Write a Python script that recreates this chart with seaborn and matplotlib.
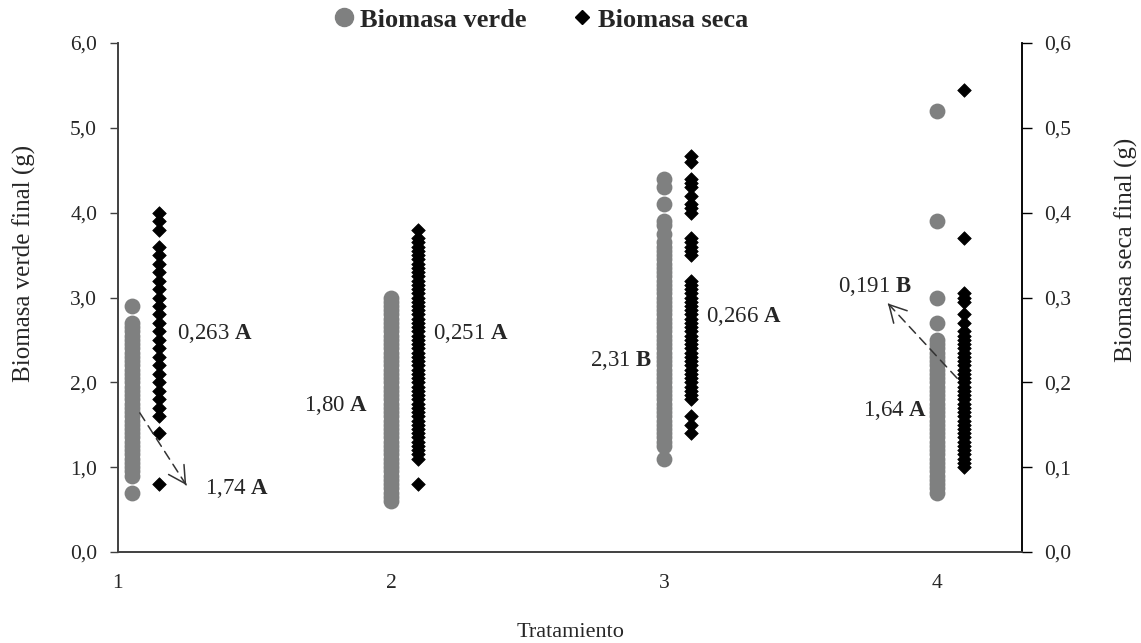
import pandas as pd
import matplotlib
matplotlib.use('Agg')
import matplotlib.pyplot as plt
import seaborn as sns
from matplotlib.lines import Line2D

treatments = [1, 2, 3, 4]

verde_t1 = [0.7, 0.9, 0.95, 1.0, 1.05, 1.1, 1.15, 1.2, 1.25, 1.3, 1.35, 1.4, 1.45,
            1.5, 1.55, 1.6, 1.65, 1.7, 1.75, 1.8, 1.85, 1.9, 1.95, 2.0, 2.05, 2.1,
            2.15, 2.2, 2.25, 2.3, 2.35, 2.4, 2.45, 2.5, 2.55, 2.6, 2.65, 2.7, 2.9]
verde_t2 = [0.6, 0.65, 0.7, 0.75, 0.8, 0.85, 0.9, 0.95, 1.0, 1.05, 1.1, 1.15, 1.2,
            1.25, 1.3, 1.35, 1.4, 1.45, 1.5, 1.55, 1.6, 1.65, 1.7, 1.75, 1.8, 1.85,
            1.9, 1.95, 2.0, 2.05, 2.1, 2.15, 2.2, 2.25, 2.3, 2.35, 2.4, 2.45, 2.5,
            2.55, 2.6, 2.65, 2.7, 2.75, 2.8, 2.85, 2.9, 2.95, 3.0]
verde_t3 = [1.1, 1.25, 1.3, 1.35, 1.4, 1.45, 1.5, 1.55, 1.6, 1.65, 1.7, 1.75, 1.8,
            1.85, 1.9, 1.95, 2.0, 2.05, 2.1, 2.15, 2.2, 2.25, 2.3, 2.35, 2.4, 2.45,
            2.5, 2.55, 2.6, 2.65, 2.7, 2.75, 2.8, 2.85, 2.9, 2.95, 3.0, 3.05, 3.1,
            3.15, 3.2, 3.25, 3.3, 3.35, 3.4, 3.45, 3.5, 3.55, 3.6, 3.65, 3.75, 3.85,
            3.9, 4.1, 4.3, 4.4]
verde_t4 = [0.7, 0.75, 0.8, 0.85, 0.9, 0.95, 1.0, 1.05, 1.1, 1.15, 1.2, 1.25, 1.3,
            1.35, 1.4, 1.45, 1.5, 1.55, 1.6, 1.65, 1.7, 1.75, 1.8, 1.85, 1.9, 1.95,
            2.0, 2.05, 2.1, 2.15, 2.2, 2.25, 2.3, 2.35, 2.4, 2.45, 2.5, 2.7, 3.0,
            3.9, 5.2]

seca_t1 = [0.08, 0.14, 0.16, 0.17, 0.18, 0.19, 0.20, 0.21, 0.22, 0.23, 0.24, 0.25,
           0.26, 0.27, 0.28, 0.29, 0.30, 0.31, 0.32, 0.33, 0.34, 0.35, 0.36, 0.38,
           0.39, 0.40]
seca_t2 = [0.08, 0.11, 0.115, 0.12, 0.125, 0.13, 0.135, 0.14, 0.145, 0.15, 0.155,
           0.16, 0.165, 0.17, 0.175, 0.18, 0.185, 0.19, 0.195, 0.20, 0.205, 0.21,
           0.215, 0.22, 0.225, 0.23, 0.235, 0.24, 0.245, 0.25, 0.255, 0.26, 0.265,
           0.27, 0.275, 0.28, 0.285, 0.29, 0.295, 0.30, 0.305, 0.31, 0.315, 0.32,
           0.325, 0.33, 0.335, 0.34, 0.345, 0.35, 0.355, 0.36, 0.365, 0.37, 0.38]
seca_t3 = [0.14, 0.15, 0.16, 0.18, 0.185, 0.19, 0.195, 0.20, 0.205, 0.21, 0.215,
           0.22, 0.225, 0.23, 0.235, 0.24, 0.245, 0.25, 0.255, 0.26, 0.265, 0.27,
           0.275, 0.28, 0.285, 0.29, 0.295, 0.30, 0.305, 0.31, 0.315, 0.32, 0.35,
           0.355, 0.36, 0.365, 0.37, 0.40, 0.405, 0.41, 0.42, 0.43, 0.435, 0.44,
           0.46, 0.467]
seca_t4 = [0.10, 0.105, 0.11, 0.115, 0.12, 0.125, 0.13, 0.135, 0.14, 0.145, 0.15,
           0.155, 0.16, 0.165, 0.17, 0.175, 0.18, 0.185, 0.19, 0.195, 0.20, 0.205,
           0.21, 0.215, 0.22, 0.225, 0.23, 0.235, 0.24, 0.245, 0.25, 0.255, 0.26,
           0.27, 0.28, 0.295, 0.30, 0.305, 0.37, 0.545]

# Means and significance letters shown as labels
verde_labels = ['1,74', '1,80', '2,31', '1,64']
verde_letters = ['A', 'A', 'B', 'A']
seca_labels = ['0,263', '0,251', '0,266', '0,191']
seca_letters = ['A', 'A', 'A', 'B']

left_ticks = [0, 1, 2, 3, 4, 5, 6]
left_ticklabels = ['0,0', '1,0', '2,0', '3,0', '4,0', '5,0', '6,0']
right_ticks = [0, 0.1, 0.2, 0.3, 0.4, 0.5, 0.6]
right_ticklabels = ['0,0', '0,1', '0,2', '0,3', '0,4', '0,5', '0,6']

# small horizontal dodge of the two series at each treatment
verde_offset = [0.05, 0.0, 0.0, 0.0]
seca_offset = [0.15, 0.10, 0.10, 0.10]

verde_all = [verde_t1, verde_t2, verde_t3, verde_t4]
seca_all = [seca_t1, seca_t2, seca_t3, seca_t4]

rows_v = []
rows_s = []
for t, off_v, off_s, vv, ss in zip(treatments, verde_offset, seca_offset, verde_all, seca_all):
    rows_v += [{'x': t + off_v, 'valor': v} for v in vv]
    rows_s += [{'x': t + off_s, 'valor': s} for s in ss]
df_verde = pd.DataFrame(rows_v)
df_seca = pd.DataFrame(rows_s)

sns.set_style('white')
plt.rcParams['font.family'] = ['Liberation Serif', 'DejaVu Serif']
plt.rcParams['mathtext.fontset'] = 'custom'
plt.rcParams['mathtext.rm'] = 'Liberation Serif'
plt.rcParams['mathtext.bf'] = 'Liberation Serif:bold'

grey = '#7f8080'
axcol = '#404040'

fig = plt.figure(figsize=(11.41, 6.43), dpi=100)
ax = fig.add_axes([0.1034, 0.1415, 0.7923, 0.7916])
ax2 = ax.twinx()

sns.scatterplot(data=df_verde, x='x', y='valor', ax=ax, color=grey, marker='o',
                s=130, linewidth=0, legend=False, zorder=3)
sns.scatterplot(data=df_seca, x='x', y='valor', ax=ax2, color='black', marker='D',
                s=48, edgecolor='black', linewidth=0.5, legend=False, zorder=3)

ax.set_xlim(1, 4.311)
ax.set_ylim(0, 6)
ax2.set_ylim(0, 0.6)

ax.set_xticks(treatments)
ax.set_xticklabels([str(t) for t in treatments])
ax.set_yticks(left_ticks)
ax.set_yticklabels(left_ticklabels)
ax2.set_yticks(right_ticks)
ax2.set_yticklabels(right_ticklabels)

ax.tick_params(axis='x', length=0, pad=16, labelsize=15.5)
ax.tick_params(axis='y', length=6, width=1, color=axcol, pad=9, labelsize=15.5,
               direction='out', left=True)
ax2.tick_params(axis='y', length=7, width=1, color='black', pad=9, labelsize=15.5,
                direction='out', right=True)

for a in (ax, ax2):
    a.spines['top'].set_visible(False)
    for side in ('left', 'bottom', 'right'):
        a.spines[side].set_color(axcol)
        a.spines[side].set_linewidth(1.2)
ax2.spines['right'].set_color('black')

ax.set_xlabel('')
ax.set_ylabel('')
ax2.set_ylabel('')
fig.text(0.021, 0.591, 'Biomasa verde final (g)', rotation=90, ha='center',
         va='center', fontsize=18)
fig.text(0.987, 0.611, 'Biomasa seca final (g)', rotation=90, ha='center',
         va='center', fontsize=18)
fig.text(0.5, 0.017, 'Tratamiento', ha='center', va='center', fontsize=16)

# mean labels
lab_fs = 16.5
def lab(txt, letter):
    return txt + ' $\\mathbf{' + letter + '}$'

ax.text(1.216, 2.58, lab(seca_labels[0], seca_letters[0]), ha='left', va='center', fontsize=lab_fs)
ax.text(1.32, 0.75, lab(verde_labels[0], verde_letters[0]), ha='left', va='center', fontsize=lab_fs)
ax.text(1.916, 1.73, lab(verde_labels[1], verde_letters[1]), ha='right', va='center', fontsize=lab_fs)
ax.text(2.154, 2.58, lab(seca_labels[1], seca_letters[1]), ha='left', va='center', fontsize=lab_fs)
ax.text(2.956, 2.26, lab(verde_labels[2], verde_letters[2]), ha='right', va='center', fontsize=lab_fs)
ax.text(3.154, 2.78, lab(seca_labels[2], seca_letters[2]), ha='left', va='center', fontsize=lab_fs)
ax.text(3.908, 3.13, lab(seca_labels[3], seca_letters[3]), ha='right', va='center', fontsize=lab_fs)
ax.text(3.963, 1.67, lab(verde_labels[3], verde_letters[3]), ha='right', va='center', fontsize=lab_fs)

# dashed arrows with a solid open head
line_style = dict(arrowstyle='-', linestyle=(0, (6, 4)), color='#333333', lw=1.1,
                  shrinkA=0, shrinkB=0)
head_style = dict(arrowstyle='->,head_length=0.55,head_width=0.3', color='#333333',
                  lw=1.1, shrinkA=0, shrinkB=0, mutation_scale=22)
for start, end in [((1.08, 1.64), (1.25, 0.79)), ((4.073, 2.05), (3.82, 2.93))]:
    ax2.annotate('', xy=end, xytext=start, xycoords=ax.transData,
                 textcoords=ax.transData, arrowprops=line_style, zorder=5)
    near = (end[0] - 0.02 * (end[0] - start[0]), end[1] - 0.02 * (end[1] - start[1]))
    ax2.annotate('', xy=end, xytext=near, xycoords=ax.transData,
                 textcoords=ax.transData, arrowprops=head_style, zorder=5)

handles = [Line2D([], [], marker='o', color=grey, linestyle='', markersize=13),
           Line2D([], [], marker='D', color='black', linestyle='', markersize=7)]
fig.legend(handles, ['Biomasa verde', 'Biomasa seca'], loc='center',
           bbox_to_anchor=(0.473, 0.969), ncol=2, frameon=False,
           prop={'family': 'Liberation Serif', 'weight': 'bold', 'size': 19},
           handletextpad=0.1, columnspacing=1.6, handlelength=1.0)

fig.savefig('out.png', dpi=100)
